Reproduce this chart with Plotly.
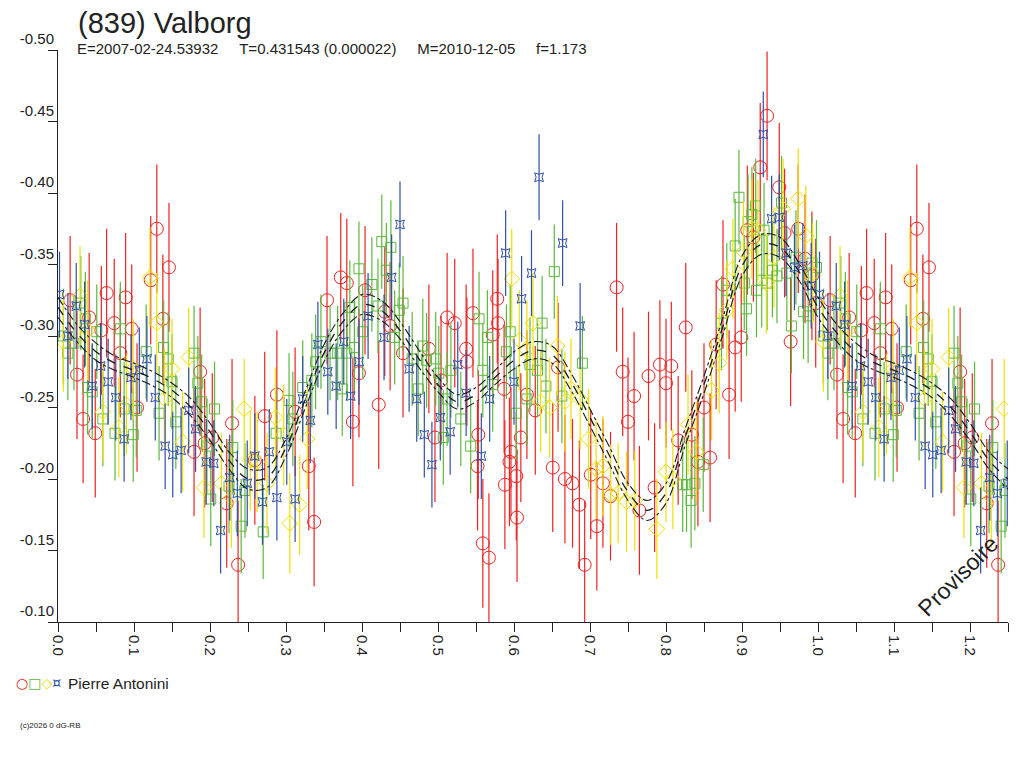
import plotly.graph_objects as go

W, H = 1024, 768
OFF = 8  # the page body adds an 8px margin around the figure

# ---- fitted lightcurve (one full period, repeated past 1.0) ----
fit_phase = [0.000, 0.025, 0.050, 0.075, 0.100, 0.125, 0.150, 0.175, 0.200, 0.225,
             0.250, 0.275, 0.300, 0.325, 0.350, 0.375, 0.400, 0.425, 0.450, 0.475,
             0.500, 0.525, 0.550, 0.575, 0.600, 0.625, 0.650, 0.675, 0.700, 0.725,
             0.750, 0.775, 0.800, 0.825, 0.850, 0.875, 0.900, 0.925, 0.950, 0.975,
             1.000]
fit_mag = [-0.320, -0.302, -0.289, -0.281, -0.276, -0.270, -0.262, -0.250, -0.233, -0.213,
           -0.200, -0.201, -0.222, -0.255, -0.288, -0.310, -0.322, -0.318, -0.304, -0.284,
           -0.266, -0.254, -0.259, -0.271, -0.283, -0.290, -0.287, -0.268, -0.243, -0.217,
           -0.191, -0.178, -0.190, -0.229, -0.266, -0.307, -0.349, -0.364, -0.362, -0.345,
           -0.320]
fit_sig = [0.007, 0.006, 0.006, 0.005, 0.005, 0.005, 0.005, 0.006, 0.006, 0.006,
           0.007, 0.007, 0.006, 0.006, 0.006, 0.006, 0.007, 0.007, 0.006, 0.006,
           0.005, 0.005, 0.005, 0.005, 0.006, 0.006, 0.006, 0.006, 0.006, 0.006,
           0.006, 0.007, 0.007, 0.006, 0.006, 0.006, 0.007, 0.007, 0.007, 0.006,
           0.007]

# ---- observations (Pierre Antonini, 4 sessions) ----
red_phase = [0.016, 0.025, 0.033, 0.041, 0.049, 0.057, 0.064, 0.074, 0.082, 0.089,
             0.097, 0.104, 0.122, 0.130, 0.138, 0.146, 0.179, 0.187, 0.193, 0.203,
             0.222, 0.229, 0.237, 0.259, 0.272, 0.288, 0.312, 0.330, 0.337, 0.354,
             0.372, 0.380, 0.388, 0.396, 0.404, 0.422, 0.430, 0.437, 0.454, 0.488,
             0.496, 0.504, 0.512, 0.522, 0.537, 0.538, 0.546, 0.553, 0.552, 0.559,
             0.567, 0.572, 0.578, 0.579, 0.587, 0.588, 0.594, 0.596, 0.603, 0.604,
             0.609, 0.617, 0.628, 0.651, 0.658, 0.667, 0.677, 0.686, 0.693, 0.701,
             0.709, 0.717, 0.727, 0.735, 0.743, 0.750, 0.758, 0.765, 0.777, 0.785,
             0.792, 0.800, 0.807, 0.816, 0.826, 0.834, 0.842, 0.850, 0.858, 0.866,
             0.875, 0.883, 0.891, 0.899, 0.907, 0.915, 0.924, 0.933, 0.949, 0.956,
             0.964, 0.974, 0.983, 0.992, 0.997]
red_mag = [-0.325, -0.273, -0.242, -0.313, -0.232, -0.304, -0.330, -0.309, -0.288, -0.327,
           -0.305, -0.250, -0.339, -0.375, -0.312, -0.348, -0.219, -0.275, -0.225, -0.229,
           -0.183, -0.239, -0.140, -0.213, -0.244, -0.259, -0.247, -0.209, -0.170, -0.325,
           -0.341, -0.337, -0.240, -0.274, -0.332, -0.252, -0.317, -0.307, -0.288, -0.291,
           -0.229, -0.269, -0.313, -0.309, -0.291, -0.282, -0.316, -0.231, -0.209, -0.155,
           -0.145, -0.301, -0.326, -0.309, -0.263, -0.196, -0.212, -0.219, -0.202, -0.173,
           -0.229, -0.259, -0.248, -0.208, -0.278, -0.200, -0.197, -0.182, -0.140, -0.203,
           -0.167, -0.197, -0.188, -0.334, -0.275, -0.240, -0.258, -0.178, -0.272, -0.194,
           -0.280, -0.267, -0.279, -0.227, -0.306, -0.231, -0.212, -0.250, -0.215, -0.294,
           -0.336, -0.259, -0.292, -0.299, -0.374, -0.369, -0.418, -0.454, -0.404, -0.372,
           -0.296, -0.375, -0.354, -0.342, -0.323]

green_phase = [0.007, 0.013, 0.021, 0.030, 0.036, 0.039, 0.045, 0.051, 0.059, 0.075,
               0.082, 0.087, 0.099, 0.103, 0.116, 0.133, 0.139, 0.145, 0.150, 0.155,
               0.179, 0.184, 0.189, 0.196, 0.201, 0.206, 0.225, 0.230, 0.241, 0.246,
               0.270, 0.287, 0.304, 0.309, 0.322, 0.334, 0.339, 0.346, 0.358, 0.368,
               0.374, 0.380, 0.384, 0.390, 0.396, 0.401, 0.413, 0.421, 0.426, 0.432,
               0.438, 0.443, 0.449, 0.454, 0.466, 0.474, 0.480, 0.485, 0.497, 0.501,
               0.507, 0.512, 0.517, 0.530, 0.543, 0.554, 0.559, 0.565, 0.572, 0.590,
               0.595, 0.603, 0.617, 0.621, 0.631, 0.637, 0.642, 0.653, 0.663, 0.690,
               0.822, 0.827, 0.833, 0.838, 0.849, 0.873, 0.880, 0.891, 0.896, 0.903,
               0.906, 0.908, 0.913, 0.918, 0.919, 0.926, 0.929, 0.933, 0.940, 0.946,
               0.952, 0.959, 0.965, 0.971, 0.981, 0.987, 0.992, 0.998]
green_mag = [-0.300, -0.288, -0.295, -0.323, -0.312, -0.264, -0.261, -0.303, -0.242, -0.232,
             -0.305, -0.249, -0.231, -0.248, -0.289, -0.246, -0.292, -0.284, -0.268, -0.240,
             -0.288, -0.267, -0.254, -0.223, -0.186, -0.249, -0.195, -0.222, -0.167, -0.192,
             -0.163, -0.232, -0.255, -0.242, -0.264, -0.269, -0.282, -0.296, -0.288, -0.288,
             -0.263, -0.288, -0.320, -0.292, -0.347, -0.303, -0.336, -0.321, -0.366, -0.346,
             -0.362, -0.299, -0.318, -0.323, -0.284, -0.263, -0.293, -0.283, -0.284, -0.274,
             -0.229, -0.256, -0.276, -0.242, -0.223, -0.312, -0.276, -0.299, -0.266, -0.289,
             -0.303, -0.246, -0.256, -0.280, -0.276, -0.309, -0.265, -0.345, -0.258, -0.281,
             -0.196, -0.196, -0.185, -0.197, -0.210, -0.309, -0.332, -0.363, -0.397, -0.337,
             -0.319, -0.380, -0.385, -0.391, -0.332, -0.339, -0.374, -0.337, -0.346, -0.342,
             -0.393, -0.344, -0.307, -0.355, -0.317, -0.314, -0.351, -0.348]

yellow_phase = [0.007, 0.029, 0.039, 0.059, 0.080, 0.090, 0.099, 0.121, 0.130, 0.140,
                0.150, 0.164, 0.172, 0.192, 0.215, 0.228, 0.245, 0.253, 0.262, 0.275,
                0.286, 0.297, 0.305, 0.318, 0.328, 0.597, 0.607, 0.617, 0.625, 0.635,
                0.647, 0.657, 0.667, 0.675, 0.687, 0.698, 0.708, 0.717, 0.727, 0.737,
                0.748, 0.759, 0.788, 0.800, 0.809, 0.829, 0.840, 0.860, 0.870, 0.880,
                0.888, 0.902, 0.913, 0.921, 0.932, 0.942, 0.954, 0.974, 0.984, 0.993]
yellow_mag = [-0.296, -0.328, -0.304, -0.247, -0.236, -0.252, -0.277, -0.341, -0.309, -0.256,
              -0.277, -0.226, -0.285, -0.194, -0.197, -0.187, -0.249, -0.213, -0.212, -0.197,
              -0.243, -0.231, -0.169, -0.182, -0.228, -0.340, -0.297, -0.290, -0.309, -0.254,
              -0.250, -0.293, -0.254, -0.263, -0.256, -0.228, -0.207, -0.209, -0.189, -0.190,
              -0.184, -0.185, -0.165, -0.205, -0.200, -0.238, -0.219, -0.262, -0.281, -0.318,
              -0.347, -0.359, -0.375, -0.374, -0.337, -0.355, -0.389, -0.396, -0.370, -0.344]

blue_phase = [0.002, 0.013, 0.024, 0.035, 0.045, 0.056, 0.066, 0.076, 0.087, 0.096,
              0.107, 0.117, 0.128, 0.141, 0.151, 0.162, 0.172, 0.181, 0.195, 0.205,
              0.214, 0.226, 0.236, 0.249, 0.259, 0.269, 0.278, 0.288, 0.301, 0.312,
              0.322, 0.332, 0.342, 0.355, 0.366, 0.376, 0.385, 0.396, 0.408, 0.429,
              0.439, 0.450, 0.462, 0.472, 0.482, 0.492, 0.503, 0.516, 0.526, 0.537,
              0.557, 0.568, 0.589, 0.600, 0.610, 0.623, 0.633, 0.664, 0.687, 0.928,
              0.939, 0.949, 0.958, 0.969, 0.980, 0.991]
blue_mag = [-0.329, -0.300, -0.321, -0.308, -0.265, -0.279, -0.268, -0.257, -0.228, -0.271,
            -0.276, -0.284, -0.257, -0.223, -0.217, -0.220, -0.248, -0.235, -0.212, -0.211,
            -0.164, -0.201, -0.190, -0.197, -0.216, -0.184, -0.219, -0.187, -0.226, -0.186,
            -0.256, -0.241, -0.294, -0.275, -0.265, -0.296, -0.258, -0.282, -0.314, -0.299,
            -0.341, -0.378, -0.277, -0.256, -0.231, -0.210, -0.243, -0.233, -0.280, -0.260,
            -0.216, -0.256, -0.358, -0.268, -0.326, -0.344, -0.411, -0.365, -0.307, -0.441,
            -0.382, -0.383, -0.358, -0.348, -0.349, -0.335]

# typical error bar half-length per session
red_err, green_err, yellow_err, blue_err = 0.045, 0.033, 0.035, 0.030

x_tick_vals = [0.0, 0.05, 0.1, 0.15, 0.2, 0.25, 0.3, 0.35, 0.4, 0.45, 0.5, 0.55, 0.6,
               0.65, 0.7, 0.75, 0.8, 0.85, 0.9, 0.95, 1.0, 1.05, 1.1, 1.15, 1.2, 1.25]
x_tick_text = ["0.0", "", "0.1", "", "0.2", "", "0.3", "", "0.4", "", "0.5", "", "0.6",
               "", "0.7", "", "0.8", "", "0.9", "", "1.0", "", "1.1", "", "1.2", ""]
y_tick_vals = [-0.50, -0.45, -0.40, -0.35, -0.30, -0.25, -0.20, -0.15, -0.10]
y_tick_text = ["-0.50", "-0.45", "-0.40", "-0.35", "-0.30", "-0.25", "-0.20", "-0.15", "-0.10"]

RED, GREEN, YELLOW, BLUE = "#ee2222", "#5cb83c", "#ede000", "#2f4fa8"
FONT = "Liberation Sans, Arial, sans-serif"


def px(x):
    return (x - OFF) / W


def py(y):
    return 1 - (y - OFF) / H


def wrap(ph, mg, limit=0.25):
    # phases past 1.0 repeat the start of the cycle
    xs = list(ph) + [p + 1 for p in ph if p <= limit]
    ys = list(mg) + [m for p, m in zip(ph, mg) if p <= limit]
    return xs, ys


fig = go.Figure()

sessions = [
    (red_phase, red_mag, red_err, RED, "circle-open", 13),
    (green_phase, green_mag, green_err, GREEN, "square-open", 10),
    (yellow_phase, yellow_mag, yellow_err, YELLOW, "diamond-open", 12),
    (blue_phase, blue_mag, blue_err, BLUE, "star-square-open", 8),
]
for ph, mg, err, col, sym, sz in sessions:
    xs, ys = wrap(ph, mg)
    fig.add_trace(go.Scatter(
        x=xs, y=ys, mode="markers",
        marker=dict(symbol=sym, size=sz, color=col, line=dict(width=1, color=col)),
        error_y=dict(type="constant", value=err, width=0, thickness=1.2, color=col),
        showlegend=False, hoverinfo="skip",
    ))

fx, fy = wrap(fit_phase[1:], fit_mag[1:])
fx = [fit_phase[0]] + fx
fy = [fit_mag[0]] + fy
_, fs = wrap(fit_phase[1:], fit_sig[1:])
fs = [fit_sig[0]] + fs
fig.add_trace(go.Scatter(x=fx, y=[m - s for m, s in zip(fy, fs)], mode="lines",
                         line=dict(color="#1a1a1a", width=1.1, dash="dashdot", shape="spline"),
                         showlegend=False, hoverinfo="skip"))
fig.add_trace(go.Scatter(x=fx, y=fy, mode="lines",
                         line=dict(color="#1a1a1a", width=1.3, dash="dash", shape="spline"),
                         showlegend=False, hoverinfo="skip"))
fig.add_trace(go.Scatter(x=fx, y=[m + s for m, s in zip(fy, fs)], mode="lines",
                         line=dict(color="#1a1a1a", width=1.1, dash="dashdot", shape="spline"),
                         showlegend=False, hoverinfo="skip"))

axis_common = dict(showgrid=False, zeroline=False, showline=True, linecolor="#222",
                   linewidth=1, ticks="outside", tickcolor="#222", tickwidth=1,
                   automargin=False,
                   tickfont=dict(family=FONT, size=15, color="#222"))

fig.update_layout(
    width=W, height=H,
    margin=dict(l=0, r=0, t=0, b=0, autoexpand=False),
    paper_bgcolor="white", plot_bgcolor="white",
    font=dict(family=FONT, color="#222"),
    xaxis=dict(domain=[px(58), px(1008)], range=[0, 1.25],
               tickmode="array", tickvals=x_tick_vals, ticktext=x_tick_text,
               tickangle=90, ticklen=9, **axis_common),
    yaxis=dict(domain=[py(622), py(50)], range=[-0.10, -0.50],
               tickmode="array", tickvals=y_tick_vals, ticktext=y_tick_text,
               ticklen=9, ticklabelposition="outside top", **axis_common),
)

nb = "\u00a0" * 5
legend_syms = (f'<span style="color:{RED}">○</span><span style="color:{GREEN}">□</span>'
               f'<span style="color:{YELLOW}">◇</span><span style="color:{BLUE}">¤</span>')
texts = [
    dict(text="(839) Valborg", x=px(77), y=py(23), font=dict(size=29, color="#222")),
    dict(text=f"E=2007-02-24.53932{nb}T=0.431543 (0.000022){nb}M=2010-12-05{nb}f=1.173",
         x=px(76), y=py(49), font=dict(size=15, color="#222")),
    dict(text=legend_syms, x=px(15), y=py(683),
         font=dict(family="DejaVu Sans", size=14, color="#222")),
    dict(text="Pierre Antonini", x=px(67), y=py(683), font=dict(size=15.5, color="#222")),
    dict(text="(c)2026 0 dG-RB", x=px(19), y=py(725), font=dict(size=8, color="#222")),
]
for a in texts:
    fig.add_annotation(xref="paper", yref="paper", xanchor="left", yanchor="middle",
                       showarrow=False, borderpad=0, **a)

fig.add_annotation(text="Provisoire", xref="paper", yref="paper", x=px(958), y=py(576),
                   xanchor="center", yanchor="middle", textangle=-45, showarrow=False,
                   font=dict(size=23, color="#222"))

fig.write_html("out.html")
